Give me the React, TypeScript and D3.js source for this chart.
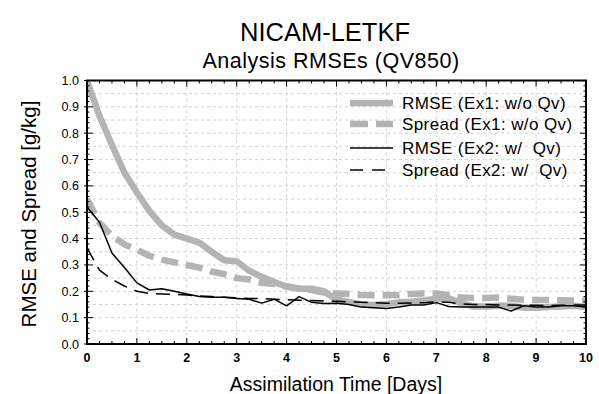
import React from "react";
import * as d3 from "d3";

const days = [0, 0.25, 0.5, 0.75, 1, 1.25, 1.5, 1.75, 2, 2.25, 2.5, 2.75, 3, 3.25, 3.5, 3.75, 4, 4.25, 4.5, 4.75, 5, 5.25, 5.5, 5.75, 6, 6.25, 6.5, 6.75, 7, 7.25, 7.5, 7.75, 8, 8.25, 8.5, 8.75, 9, 9.25, 9.5, 9.75, 10];

const rmseEx1 = [1.0, 0.865, 0.755, 0.65, 0.575, 0.505, 0.45, 0.415, 0.4, 0.385, 0.35, 0.318, 0.314, 0.278, 0.255, 0.235, 0.218, 0.21, 0.21, 0.2, 0.168, 0.16, 0.15, 0.148, 0.152, 0.158, 0.16, 0.165, 0.172, 0.174, 0.155, 0.142, 0.142, 0.145, 0.145, 0.138, 0.138, 0.14, 0.142, 0.145, 0.14];

const spreadEx1 = [0.55, 0.46, 0.41, 0.378, 0.358, 0.335, 0.32, 0.31, 0.3, 0.29, 0.275, 0.265, 0.25, 0.245, 0.232, 0.228, 0.218, 0.21, 0.205, 0.195, 0.192, 0.19, 0.186, 0.185, 0.185, 0.186, 0.19, 0.192, 0.192, 0.185, 0.176, 0.175, 0.175, 0.176, 0.172, 0.168, 0.167, 0.167, 0.166, 0.165, 0.165];

const rmseEx2 = [0.52, 0.462, 0.345, 0.29, 0.232, 0.205, 0.21, 0.2, 0.19, 0.18, 0.177, 0.177, 0.173, 0.17, 0.155, 0.17, 0.145, 0.18, 0.158, 0.154, 0.155, 0.15, 0.14, 0.138, 0.135, 0.14, 0.148, 0.148, 0.157, 0.142, 0.14, 0.14, 0.14, 0.14, 0.125, 0.145, 0.14, 0.14, 0.145, 0.145, 0.14];

const spreadEx2 = [0.365, 0.28, 0.245, 0.22, 0.2, 0.192, 0.19, 0.188, 0.186, 0.182, 0.18, 0.177, 0.175, 0.173, 0.172, 0.17, 0.168, 0.166, 0.165, 0.163, 0.162, 0.16, 0.158, 0.157, 0.155, 0.155, 0.156, 0.157, 0.16, 0.158, 0.152, 0.15, 0.15, 0.148, 0.148, 0.147, 0.147, 0.146, 0.147, 0.148, 0.148];

const xTicks = [0, 1, 2, 3, 4, 5, 6, 7, 8, 9, 10];
const yTicks = [0, 0.1, 0.2, 0.3, 0.4, 0.5, 0.6, 0.7, 0.8, 0.9, 1.0];

const legendLabels = ["RMSE (Ex1: w/o Qv)", "Spread (Ex1: w/o Qv)", "RMSE (Ex2: w/  Qv)", "Spread (Ex2: w/  Qv)"];

const GRAY = "#b4b4b4";
const FONT = "'Liberation Sans', Arial, Helvetica, sans-serif";

export default function App() {
  const W = 599, H = 394;
  const left = 87, right = 586, top = 80.5, bottom = 344;
  const x = d3.scaleLinear().domain([0, 10]).range([left, right]);
  const y = d3.scaleLinear().domain([0, 1]).range([bottom, top]);

  const line = (vals: number[]) =>
    d3.line<number>().x((_, i) => x(days[i])).y((v) => y(v))(vals) || "";

  const series = [
    { vals: rmseEx1, color: GRAY, width: 6.5, dash: "none" },
    { vals: spreadEx1, color: GRAY, width: 6.5, dash: "17,8" },
    { vals: rmseEx2, color: "#000", width: 1.5, dash: "none" },
    { vals: spreadEx2, color: "#000", width: 1.5, dash: "14,8" },
  ];

  const hGrid = d3.range(0.05, 1.0, 0.05);
  const vGrid = d3.range(1, 10, 1);
  const xMinor = d3.range(0, 10.001, 0.25);
  const yMinor = d3.range(0, 1.0001, 0.02);

  const legendRows = [103, 124, 148, 170];

  return (
    <svg width={W} height={H} style={{ position: "absolute", left: 0, top: 0, background: "#fff" }} fontFamily={FONT}>
      <rect x={0} y={0} width={W} height={H} fill="#fff" />
      {/* titles */}
      <text x={325} y={41} textAnchor="middle" fontSize={25.5}>NICAM-LETKF</text>
      <text x={331} y={68} textAnchor="middle" fontSize={21.5} letterSpacing={0.5}>Analysis RMSEs (QV850)</text>

      {/* grid */}
      <g stroke="#d2d2d2" strokeWidth={1} strokeDasharray="3,3">
        {hGrid.map((v) => (
          <line key={"h" + v} x1={left} x2={right} y1={y(v)} y2={y(v)} />
        ))}
        {vGrid.map((v) => (
          <line key={"v" + v} x1={x(v)} x2={x(v)} y1={top} y2={bottom} />
        ))}
      </g>

      {/* data */}
      <defs>
        <clipPath id="plotclip">
          <rect x={left} y={top} width={right - left} height={bottom - top} />
        </clipPath>
      </defs>
      <g clipPath="url(#plotclip)" fill="none">
        {series.map((s, i) => (
          <path key={i} d={line(s.vals)} stroke={s.color} strokeWidth={s.width}
            strokeDasharray={s.dash} strokeLinejoin="round" strokeLinecap="butt" />
        ))}
      </g>

      {/* ticks */}
      <g stroke="#000" strokeWidth={1}>
        {xMinor.map((v) => {
          const major = Math.abs(v - Math.round(v)) < 1e-6;
          const len = major ? 6 : 3;
          return (
            <g key={"xt" + v}>
              <line x1={x(v)} x2={x(v)} y1={bottom} y2={bottom - len} />
              <line x1={x(v)} x2={x(v)} y1={top} y2={top + len} />
            </g>
          );
        })}
        {yMinor.map((v) => {
          const major = Math.abs(v * 10 - Math.round(v * 10)) < 1e-6;
          const len = major ? 6 : 2.5;
          return (
            <g key={"yt" + v}>
              <line x1={major ? left - 3 : left} x2={left + len} y1={y(v)} y2={y(v)} />
              <line x1={right} x2={right - len} y1={y(v)} y2={y(v)} />
            </g>
          );
        })}
      </g>
      <rect x={left} y={top} width={right - left} height={bottom - top} fill="none" stroke="#000" strokeWidth={2} />

      {/* tick labels */}
      {xTicks.map((v) => (
        <text key={"xl" + v} x={x(v)} y={362} textAnchor="middle" fontSize={12.5} fontWeight="bold">{v}</text>
      ))}
      {yTicks.map((v) => (
        <text key={"yl" + v} x={79} y={y(v) + 4.5} textAnchor="end" fontSize={12.5}>{v.toFixed(1)}</text>
      ))}

      {/* axis titles */}
      <text x={336} y={391} textAnchor="middle" fontSize={19.5}>Assimilation Time [Days]</text>
      <text transform={`translate(36, 214) rotate(-90)`} textAnchor="middle" fontSize={20.5}>RMSE and Spread [g/kg]</text>

      {/* legend */}
      {series.map((s, i) => (
        <g key={"lg" + i}>
          <line x1={350} x2={393} y1={legendRows[i]} y2={legendRows[i]} stroke={s.color}
            strokeWidth={s.width} strokeDasharray={s.dash === "none" ? "none" : (i === 1 ? "18,8" : "13,9")} />
          <text x={402} y={legendRows[i] + 6} fontSize={17} letterSpacing={0.4} style={{ whiteSpace: "pre" }}>{legendLabels[i]}</text>
        </g>
      ))}
    </svg>
  );
}
